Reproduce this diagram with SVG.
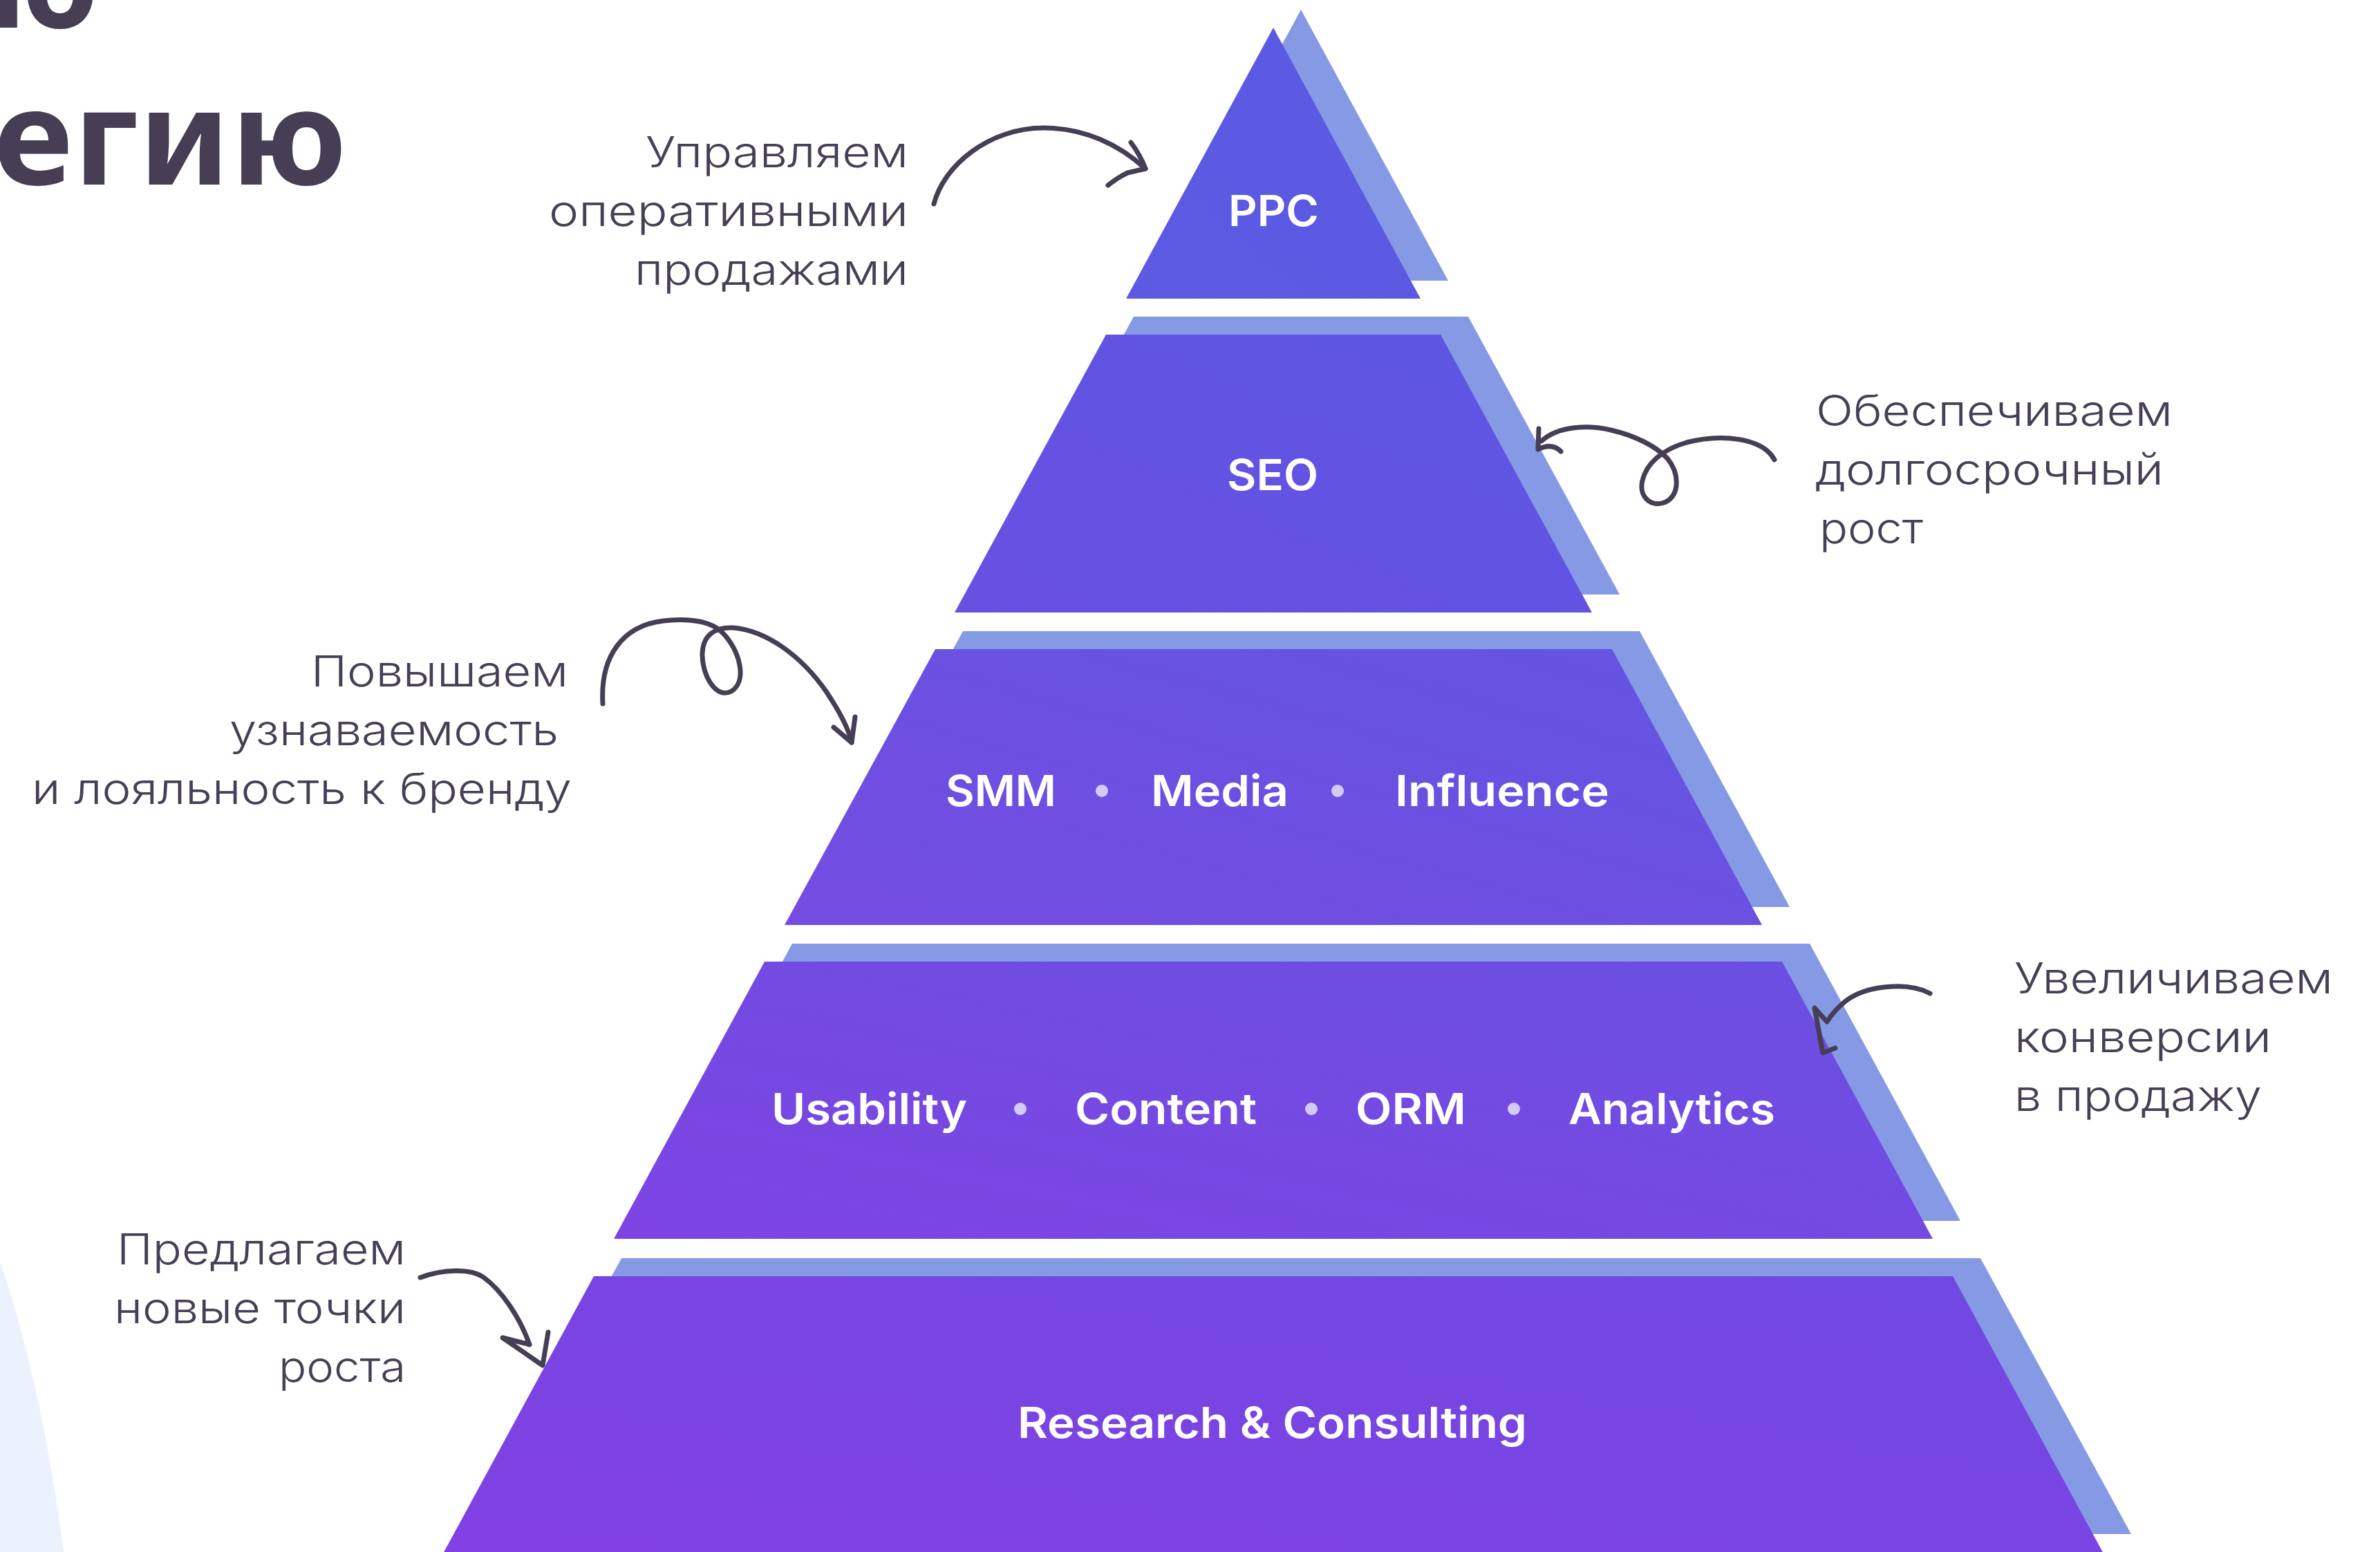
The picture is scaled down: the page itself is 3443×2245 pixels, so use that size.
<svg xmlns="http://www.w3.org/2000/svg" width="3443" height="2245" viewBox="0 0 3443 2245">
<defs>
<style>
.back{fill:#8599E5}
.lbl{font-family:Inter,"Noto Sans",sans-serif;font-weight:600;font-size:62px;fill:#FFFFFF}
.note{font-family:Inter,"Noto Sans",sans-serif;font-weight:300;font-size:62px;fill:#463F55}
.title{font-family:"Noto Sans",Inter,sans-serif;font-weight:700;font-size:190px;fill:#463E54}
.dot{fill:#D3CBF7}
.arrow{fill:none;stroke:#463E54;stroke-width:7;stroke-linecap:round;stroke-linejoin:round}
</style>
<linearGradient id="g1" x1="0" y1="1" x2="1" y2="0"><stop offset="0" stop-color="#5D59E3"/><stop offset="1" stop-color="#5A5AE3"/></linearGradient>
<linearGradient id="g2" x1="0" y1="1" x2="1" y2="0"><stop offset="0" stop-color="#6950E2"/><stop offset="1" stop-color="#5C57E3"/></linearGradient>
<linearGradient id="g3" x1="0" y1="1" x2="1" y2="0"><stop offset="0" stop-color="#754CE2"/><stop offset="1" stop-color="#6255E1"/></linearGradient>
<linearGradient id="g4" x1="0" y1="1" x2="1" y2="0"><stop offset="0" stop-color="#7E44E3"/><stop offset="1" stop-color="#6A50E2"/></linearGradient>
<linearGradient id="g5" x1="0" y1="1" x2="1" y2="0"><stop offset="0" stop-color="#8240E3"/><stop offset="1" stop-color="#7049E2"/></linearGradient>
</defs>
<rect width="3443" height="2245" fill="#FFFFFF"/>
<path d="M0,1825 Q60,2000 92,2245 L0,2245 Z" fill="#EBF2FE"/>

<g id="title">
<text class="title" x="143" y="40" text-anchor="end">ю</text>
<text class="title" x="-10" y="267" textLength="512" lengthAdjust="spacingAndGlyphs">егию</text>
</g>

<g id="level-ppc">
<polygon class="back" points="1882,14 2095,406 1669,406"/>
<polygon fill="url(#g1)" points="1842,40 2055,432 1629,432"/>
<text class="lbl" x="1777" y="327" textLength="131" lengthAdjust="spacingAndGlyphs">PPC</text>
</g>

<g id="level-seo">
<polygon class="back" points="1640,458 2124,458 2343,860 1421,860"/>
<polygon fill="url(#g2)" points="1600,484 2084,484 2303,886 1381,886"/>
<text class="lbl" x="1775" y="709" textLength="132" lengthAdjust="spacingAndGlyphs">SEO</text>
</g>

<g id="level-smm">
<polygon class="back" points="1393,913 2372,913 2589,1312 1175,1312"/>
<polygon fill="url(#g3)" points="1353,939 2332,939 2549,1338 1135,1338"/>
<text class="lbl" x="1368" y="1166" textLength="160" lengthAdjust="spacingAndGlyphs">SMM</text>
<circle class="dot" cx="1594" cy="1144" r="9"/>
<text class="lbl" x="1665" y="1166" textLength="199" lengthAdjust="spacingAndGlyphs">Media</text>
<circle class="dot" cx="1935" cy="1144" r="9"/>
<text class="lbl" x="2018" y="1166" textLength="310" lengthAdjust="spacingAndGlyphs">Influence</text>
</g>

<g id="level-usability">
<polygon class="back" points="1146,1365 2618,1365 2836,1766 928,1766"/>
<polygon fill="url(#g4)" points="1106,1391 2578,1391 2796,1792 888,1792"/>
<text class="lbl" x="1116" y="1626" textLength="283" lengthAdjust="spacingAndGlyphs">Usability</text>
<circle class="dot" cx="1476" cy="1604" r="9"/>
<text class="lbl" x="1555" y="1626" textLength="263" lengthAdjust="spacingAndGlyphs">Content</text>
<circle class="dot" cx="1897" cy="1604" r="9"/>
<text class="lbl" x="1961" y="1626" textLength="160" lengthAdjust="spacingAndGlyphs">ORM</text>
<circle class="dot" cx="2190" cy="1604" r="9"/>
<text class="lbl" x="2269" y="1626" textLength="299" lengthAdjust="spacingAndGlyphs">Analytics</text>
</g>

<g id="level-research">
<polygon class="back" points="899,1820 2865,1820 3083,2219 681,2219"/>
<polygon fill="url(#g5)" points="859,1846 2825,1846 3057,2273 627,2273"/>
<text class="lbl" x="1472" y="2080" textLength="737" lengthAdjust="spacingAndGlyphs">Research &amp; Consulting</text>
</g>

<g id="note-ppc">
<text class="note" x="934" y="242" textLength="380" lengthAdjust="spacingAndGlyphs">Управляем</text>
<text class="note" x="794" y="327" textLength="520" lengthAdjust="spacingAndGlyphs">оперативными</text>
<text class="note" x="918" y="412" textLength="396" lengthAdjust="spacingAndGlyphs">продажами</text>
</g>
<g id="note-seo">
<text class="note" x="2627" y="616" textLength="516" lengthAdjust="spacingAndGlyphs">Обеспечиваем</text>
<text class="note" x="2626" y="701" textLength="504" lengthAdjust="spacingAndGlyphs">долгосрочный</text>
<text class="note" x="2632" y="786" textLength="150" lengthAdjust="spacingAndGlyphs">рост</text>
</g>
<g id="note-smm">
<text class="note" x="450" y="993" textLength="372" lengthAdjust="spacingAndGlyphs">Повышаем</text>
<text class="note" x="332" y="1078" textLength="476" lengthAdjust="spacingAndGlyphs">узнаваемость</text>
<text class="note" x="46" y="1163" textLength="781" lengthAdjust="spacingAndGlyphs">и лояльность к бренду</text>
</g>
<g id="note-usability">
<text class="note" x="2914" y="1437" textLength="461" lengthAdjust="spacingAndGlyphs">Увеличиваем</text>
<text class="note" x="2914" y="1522" textLength="372" lengthAdjust="spacingAndGlyphs">конверсии</text>
<text class="note" x="2914" y="1607" textLength="358" lengthAdjust="spacingAndGlyphs">в продажу</text>
</g>
<g id="note-research">
<text class="note" x="169" y="1829" textLength="418" lengthAdjust="spacingAndGlyphs">Предлагаем</text>
<text class="note" x="165" y="1914" textLength="422" lengthAdjust="spacingAndGlyphs">новые точки</text>
<text class="note" x="403" y="1999" textLength="184" lengthAdjust="spacingAndGlyphs">роста</text>
</g>

<g id="connectors">
<path class="arrow" d="M1351,295 C1365,240 1430,185 1510,185 C1570,185 1620,210 1657,244"/>
<path class="arrow" d="M1636,206 Q1650,225 1657,244 L1631,250 Q1615,258 1603,268"/>
<path class="arrow" d="M2567,665 C2550,633 2490,627 2440,640 C2405,650 2382,670 2376,695 C2370,720 2390,735 2410,726 C2430,715 2430,685 2412,663 C2395,645 2365,630 2330,622 C2300,615 2255,615 2230,638"/>
<path class="arrow" d="M2226,620 L2225,650 Q2245,640 2258,653"/>
<path class="arrow" d="M872,1018 C868,950 900,905 960,898 C1000,893 1030,900 1045,915 C1070,940 1082,985 1058,1000 C1035,1012 1015,975 1016,945 C1017,918 1035,907 1060,908 C1110,912 1160,950 1195,1000 C1215,1030 1228,1055 1232,1074"/>
<path class="arrow" d="M1206,1052 L1232,1074 L1237,1037"/>
<path class="arrow" d="M2792,1437 C2760,1420 2700,1425 2670,1448 C2655,1460 2648,1470 2643,1478 L2625,1458 L2637,1523 L2655,1516"/>
<path class="arrow" d="M608,1848 C640,1836 680,1834 700,1848 C725,1866 752,1905 766,1945 L727,1935 L785,1975 L793,1927"/>
</g>
</svg>
